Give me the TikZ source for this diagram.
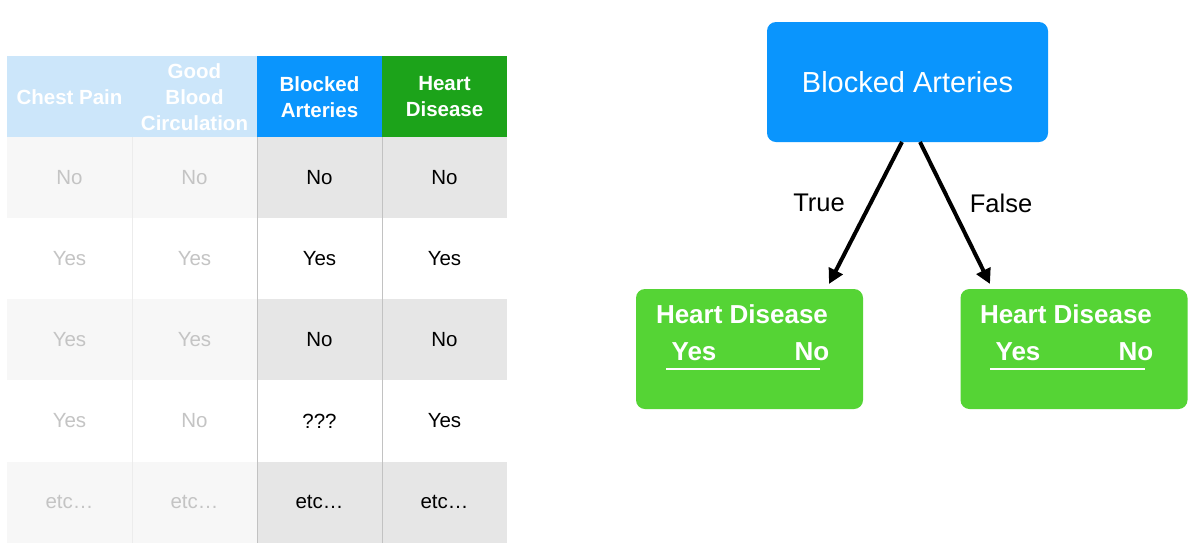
\documentclass[tikz,border=0pt]{standalone}
\usepackage{fontspec}
\setmainfont{Liberation Sans}
\usetikzlibrary{arrows.meta}
\definecolor{hdrlight}{HTML}{CCE6FA}
\definecolor{hdrblue}{HTML}{0A95FD}
\definecolor{hdrgreen}{HTML}{1CA31A}
\definecolor{rowpale}{HTML}{F7F7F7}
\definecolor{rowgrey}{HTML}{E6E6E6}
\definecolor{fadetxt}{HTML}{C4C4C4}
\definecolor{gridpale}{HTML}{ECECEC}
\definecolor{griddark}{HTML}{C2C2C2}
\definecolor{leafgreen}{HTML}{55D435}
\tikzset{
  cell/.style={font=\fontsize{20.5}{24}\selectfont, anchor=center},
  fade/.style={cell, text=fadetxt},
  dark/.style={cell, text=black},
  hdr/.style={font=\bfseries\fontsize{20.5}{26}\selectfont, text=white, align=center, anchor=center},
  rootbox/.style={fill=hdrblue, rounded corners=9pt, minimum width=281pt, minimum height=120pt, text=white, font=\fontsize{29}{32}\selectfont, inner sep=0pt},
  leafbox/.style={fill=leafgreen, rounded corners=9pt, minimum width=227pt, minimum height=120pt, inner sep=0pt},
  leaftxt/.style={text=white, font=\bfseries\fontsize{26}{30}\selectfont, inner sep=0pt},
  branch/.style={line width=4pt, -{Triangle[length=15pt,width=15pt]}},
  blabel/.style={font=\fontsize{25.5}{30}\selectfont, text=black}
}
\begin{document}
\begin{tikzpicture}[x=1pt,y=-1pt]
\useasboundingbox (0,0) rectangle (1204,558);
\fill[white] (0,0) rectangle (1204,558);
% header
\fill[hdrlight] (7,56) rectangle (257,137);
\fill[hdrblue] (257,56) rectangle (382,137);
\fill[hdrgreen] (382,56) rectangle (507,137);
\node[hdr] (h1) at (69.5,97) {Chest Pain};
\node[hdr] (h2) at (194.5,97) {Good\\Blood\\Circulation};
\node[hdr] (h3) at (319.5,97) {Blocked\\Arteries};
\node[hdr] (h4) at (444.5,97) {Heart\\Disease};
% rows
\foreach \t/\b in {137/218, 299/380, 462/543}{
  \fill[rowpale] (7,\t) rectangle (257,\b);
  \fill[rowgrey] (257,\t) rectangle (507,\b);
}
\draw[gridpale, line width=0.8pt] (132,137) -- (132,543);
\draw[griddark, line width=0.8pt] (257,137) -- (257,543);
\draw[griddark, line width=0.8pt] (382,137) -- (382,543);
% row texts
\node[fade] (r1c1) at (69.5,178) {No};
\node[fade] (r1c2) at (194.5,178) {No};
\node[dark] (r1c3) at (319.5,178) {No};
\node[dark] (r1c4) at (444.5,178) {No};
\node[fade] (r2c1) at (69.5,259) {Yes};
\node[fade] (r2c2) at (194.5,259) {Yes};
\node[dark] (r2c3) at (319.5,259) {Yes};
\node[dark] (r2c4) at (444.5,259) {Yes};
\node[fade] (r3c1) at (69.5,340) {Yes};
\node[fade] (r3c2) at (194.5,340) {Yes};
\node[dark] (r3c3) at (319.5,340) {No};
\node[dark] (r3c4) at (444.5,340) {No};
\node[fade] (r4c1) at (69.5,421) {Yes};
\node[fade] (r4c2) at (194.5,421) {No};
\node[dark] (r4c3) at (319.5,421) {???};
\node[dark] (r4c4) at (444.5,421) {Yes};
\node[fade] (r5c1) at (69.5,502) {etc…};
\node[fade] (r5c2) at (194.5,502) {etc…};
\node[dark] (r5c3) at (319.5,502) {etc…};
\node[dark] (r5c4) at (444.5,502) {etc…};
% tree
\node[rootbox] (root) at (907.5,82) {Blocked Arteries};
\node[leafbox] (lt) at (749.5,349) {};
\node[leafbox] (lf) at (1074,349) {};
\node[leaftxt] (lth) at (742,314) {Heart Disease};
\node[leaftxt] (lty) at (694,352) {Yes};
\node[leaftxt] (ltn) at (812,352) {No};
\draw[white, line width=2.5pt] (666,369) -- (820,369);
\node[leaftxt] (lfh) at (1066,314) {Heart Disease};
\node[leaftxt] (lfy) at (1018,352) {Yes};
\node[leaftxt] (lfn) at (1136,352) {No};
\draw[white, line width=2.5pt] (990,369) -- (1145,369);
\coordinate (rs1) at (902,142);
\coordinate (rs2) at (920,142);
\coordinate (te1) at (829,284);
\coordinate (te2) at (990,284);
\draw[branch] (rs1) -- (te1);
\draw[branch] (rs2) -- (te2);
\node[blabel] (tl) at (819,203) {True};
\node[blabel] (fl) at (1001,203) {False};
\end{tikzpicture}
\end{document}
